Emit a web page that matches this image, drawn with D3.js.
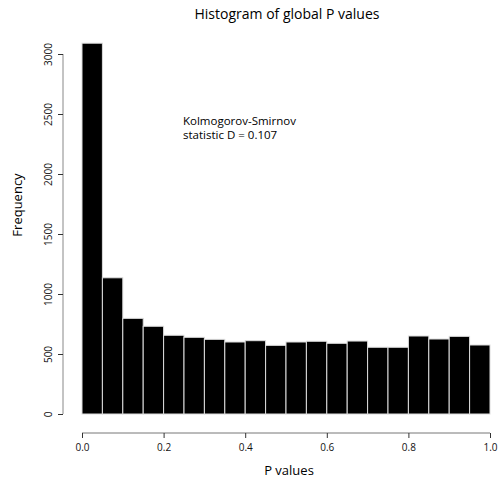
<!DOCTYPE html>
<html>
<head>
<meta charset="utf-8">
<script src="https://cdn.jsdelivr.net/npm/d3@7"></script>
<style>
  html, body { margin: 0; padding: 0; background: #fff; }
  svg { display: block; font-family: "Open Sans", "Noto Sans", sans-serif; }
</style>
</head>
<body>
<svg id="chart" width="500" height="491"></svg>
<script>
// Histogram bins of global P values (width 0.05) and their counts
const binStarts = [0.00, 0.05, 0.10, 0.15, 0.20, 0.25, 0.30, 0.35, 0.40, 0.45,
                   0.50, 0.55, 0.60, 0.65, 0.70, 0.75, 0.80, 0.85, 0.90, 0.95];
const binWidth = 0.05;
const counts = [3090, 1135, 797, 731, 656, 639, 622, 600, 611, 572,
                600, 606, 589, 608, 556, 556, 650, 625, 647, 575];
const xTicks = [0, 0.2, 0.4, 0.6, 0.8, 1.0];
const yTicks = [0, 500, 1000, 1500, 2000, 2500, 3000];

const titleText = "Histogram of global P values";
const xLabel = "P values";
const yLabel = "Frequency";
const noteLines = ["Kolmogorov-Smirnov", "statistic D = 0.107"];

const svg = d3.select("#chart");

const x = d3.scaleLinear().domain([0, 1]).range([82, 490]);
const y = d3.scaleLinear().domain([0, 3000]).range([414, 54]);

// bars
svg.append("g")
  .selectAll("rect")
  .data(counts)
  .join("rect")
  .attr("x", (d, i) => x(binStarts[i]))
  .attr("width", (d, i) => x(binStarts[i] + binWidth) - x(binStarts[i]))
  .attr("y", d => y(d))
  .attr("height", d => y(0) - y(d))
  .attr("fill", "#000")
  .attr("stroke", "#dcdcdc")
  .attr("stroke-width", 1);

// x axis
const xAxis = svg.append("g")
  .attr("transform", "translate(0,433)")
  .call(d3.axisBottom(x).tickValues(xTicks).tickFormat(d3.format(".1f")).tickSize(5).tickPadding(6));
xAxis.select(".domain").attr("stroke", "#777").attr("d", `M${x(0)},0H${x(1)}`);
xAxis.selectAll(".tick line").attr("stroke", "#333");
xAxis.selectAll(".tick text").attr("font-size", 10).attr("fill", "#111")
  .attr("font-family", "'Open Sans', sans-serif");

// y axis
const yAxis = svg.append("g")
  .attr("transform", "translate(63,0)")
  .call(d3.axisLeft(y).tickValues(yTicks).tickFormat(d3.format("d")).tickSize(5).tickPadding(0));
yAxis.select(".domain").attr("stroke", "#888").attr("d", `M0,${y(0)}V${y(3000)}`);
yAxis.selectAll(".tick line").attr("stroke", "#333");
yAxis.selectAll(".tick text")
  .attr("font-size", 10)
  .attr("fill", "#111")
  .attr("font-family", "'Open Sans', sans-serif")
  .attr("text-anchor", "middle")
  .attr("dy", 0)
  .attr("x", 0)
  .attr("transform", "translate(-11,0) rotate(-90)");

// title
svg.append("text")
  .attr("x", 287).attr("y", 19)
  .attr("text-anchor", "middle")
  .attr("font-size", 14)
  .attr("fill", "#000")
  .text(titleText);

// axis labels
svg.append("text")
  .attr("x", 289).attr("y", 475)
  .attr("text-anchor", "middle")
  .attr("font-size", 13)
  .attr("fill", "#000")
  .text(xLabel);

svg.append("text")
  .attr("transform", "translate(22,205) rotate(-90)")
  .attr("text-anchor", "middle")
  .attr("font-size", 13)
  .attr("fill", "#000")
  .text(yLabel);

// annotation
svg.append("g")
  .selectAll("text")
  .data(noteLines)
  .join("text")
  .attr("x", 183)
  .attr("y", (d, i) => 125 + i * 14)
  .attr("font-size", 11.5)
  .attr("fill", "#000")
  .text(d => d);
</script>
</body>
</html>
